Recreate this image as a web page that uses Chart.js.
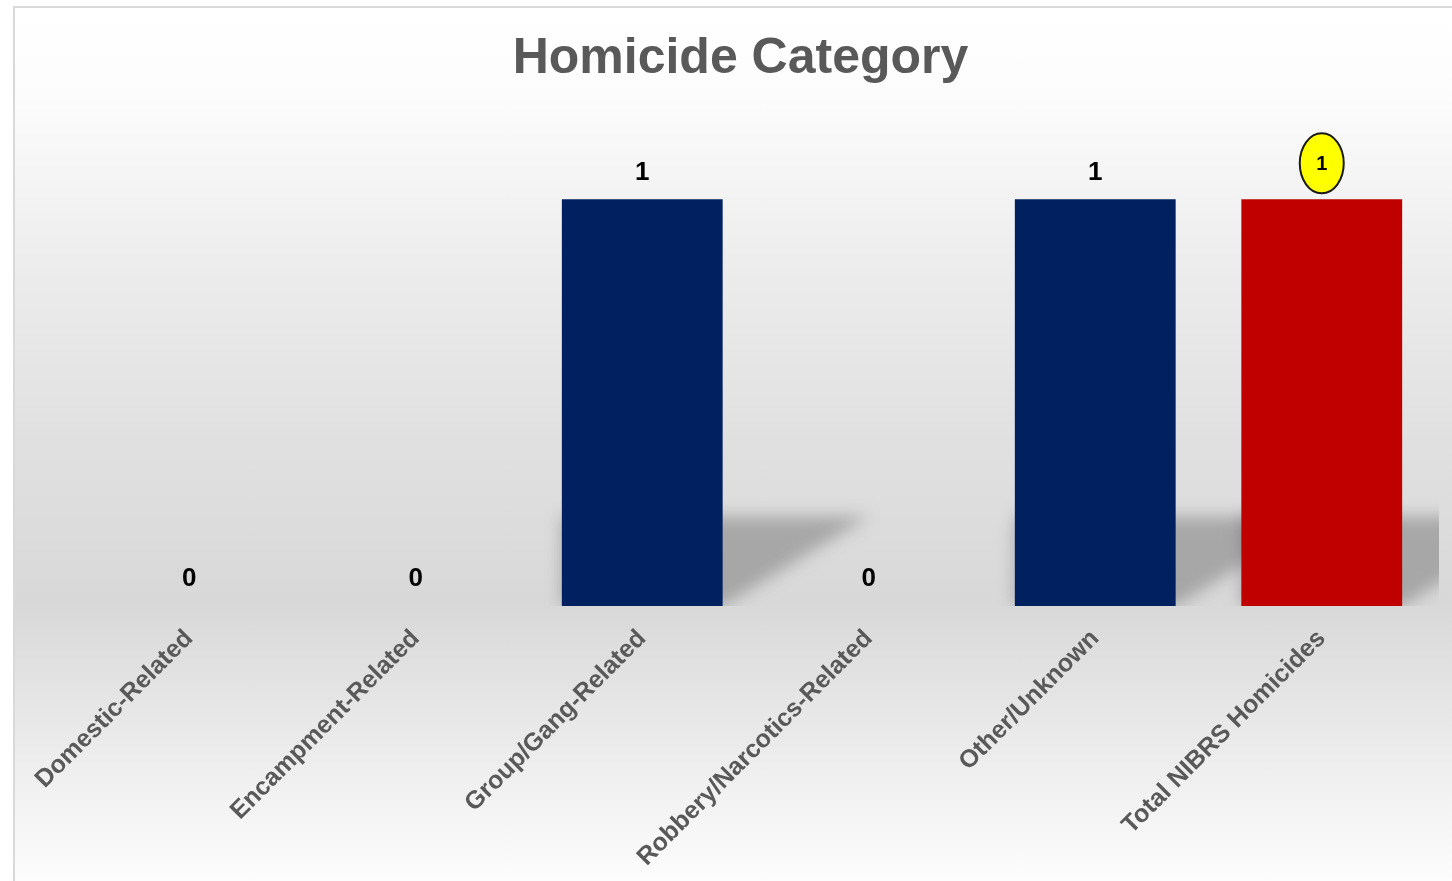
<!DOCTYPE html>
<html>
<head>
<meta charset="utf-8">
<title>Homicide Category</title>
<script src="https://cdn.jsdelivr.net/npm/chart.js@4.4.1/dist/chart.umd.min.js"></script>
<style>
    html, body { margin: 0; padding: 0; background: #ffffff; }
    #marco {
        position: absolute;
        left: 13px;
        top: 6px;
        width: 1439px;
        height: 875px;
        border-left: 2px solid #d9d9d9;
        border-top: 2px solid #d9d9d9;
        background: linear-gradient(to bottom, #ffffff 0%, #fcfcfc 10%, #ececec 30%, #e0e0e0 50%, #d8d8d8 68%, #e4e4e4 78%, #f2f2f2 90%, #fdfdfd 100%);
    }
    #grafico { position: absolute; left: 0; top: 0; }
</style>
</head>
<body>
<div id="marco">
    <canvas id="grafico" width="1437" height="873"></canvas>
</div>
<script>
// datos del grafico
const categorias = ['Domestic-Related', 'Encampment-Related', 'Group/Gang-Related', 'Robbery/Narcotics-Related', 'Other/Unknown', 'Total NIBRS Homicides'];
const homicidios = [0, 0, 1, 0, 1, 1];
const resaltado = [false, false, false, false, false, true];

const colores = ['#002060', '#002060', '#002060', '#002060', '#002060', '#c00000'];

// sombra inclinada detras de las barras
const sombraBarras = {
    id: 'sombraBarras',
    beforeDatasetsDraw(chart) {
        const ctx = chart.ctx;
        const area = chart.chartArea;
        const meta = chart.getDatasetMeta(0);
        ctx.save();
        ctx.beginPath();
        ctx.rect(area.left, area.top, area.right - area.left + 4, area.bottom - area.top);
        ctx.clip();
        ctx.filter = 'blur(8px)';
        ctx.fillStyle = 'rgba(90, 90, 90, 0.4)';
        meta.data.forEach(bar => {
            const alto = bar.base - bar.y;
            if (alto <= 0) return;
            const izq = bar.x - bar.width / 2;
            const der = bar.x + bar.width / 2;
            const dy = alto * 0.22;
            const dx = alto * 0.36;
            ctx.beginPath();
            ctx.moveTo(izq, bar.base);
            ctx.lineTo(der, bar.base);
            ctx.lineTo(der + dx, bar.base - dy);
            ctx.lineTo(izq, bar.base - dy);
            ctx.closePath();
            ctx.fill();
        });
        ctx.restore();
    }
};

// etiquetas de valor encima de cada barra
const etiquetasValor = {
    id: 'etiquetasValor',
    afterDatasetsDraw(chart) {
        const ctx = chart.ctx;
        const meta = chart.getDatasetMeta(0);
        ctx.save();
        ctx.textAlign = 'center';
        ctx.textBaseline = 'middle';
        meta.data.forEach((bar, i) => {
            const valor = homicidios[i];
            if (resaltado[i]) {
                const cy = bar.y - 36;
                ctx.beginPath();
                ctx.ellipse(bar.x, cy, 22, 30, 0, 0, Math.PI * 2);
                ctx.fillStyle = '#ffff00';
                ctx.fill();
                ctx.lineWidth = 2;
                ctx.strokeStyle = '#1a1a1a';
                ctx.stroke();
                ctx.fillStyle = '#000000';
                ctx.font = 'bold 20px "Liberation Sans", Arial, sans-serif';
                ctx.fillText(String(valor), bar.x, cy + 1);
            } else {
                ctx.fillStyle = '#000000';
                ctx.font = 'bold 26px "Liberation Sans", Arial, sans-serif';
                ctx.fillText(String(valor), bar.x, bar.y - 27);
            }
        });
        ctx.restore();
    }
};

const ctx = document.getElementById('grafico').getContext('2d');
new Chart(ctx, {
    type: 'bar',
    data: {
        labels: categorias,
        datasets: [{
            label: 'Homicidios',
            data: homicidios,
            backgroundColor: colores,
            borderWidth: 0,
            barPercentage: 0.71,
            categoryPercentage: 1.0
        }]
    },
    options: {
        responsive: false,
        animation: false,
        layout: {
            padding: { left: 31, right: 17, top: 0, bottom: 0 }
        },
        plugins: {
            legend: { display: false },
            tooltip: { enabled: false },
            title: {
                display: true,
                text: 'Homicide Category',
                color: '#595959',
                font: { family: '"Liberation Sans", Arial, sans-serif', size: 50, weight: 'bold' },
                padding: { top: 21, bottom: 29 }
            }
        },
        scales: {
            y: {
                display: true,
                min: 0,
                max: 1.2,
                grid: { display: false },
                border: { display: false },
                ticks: { display: false },
                afterFit: scale => { scale.width = 30; }
            },
            x: {
                grid: { display: false, drawTicks: false },
                border: { display: false },
                ticks: {
                    color: '#595959',
                    font: { family: '"Liberation Sans", Arial, sans-serif', size: 25, weight: 'bold' },
                    minRotation: 45,
                    maxRotation: 45,
                    padding: 18
                },
                afterFit: scale => { scale.height = 275; }
            }
        }
    },
    plugins: [sombraBarras, etiquetasValor]
});
</script>
</body>
</html>
